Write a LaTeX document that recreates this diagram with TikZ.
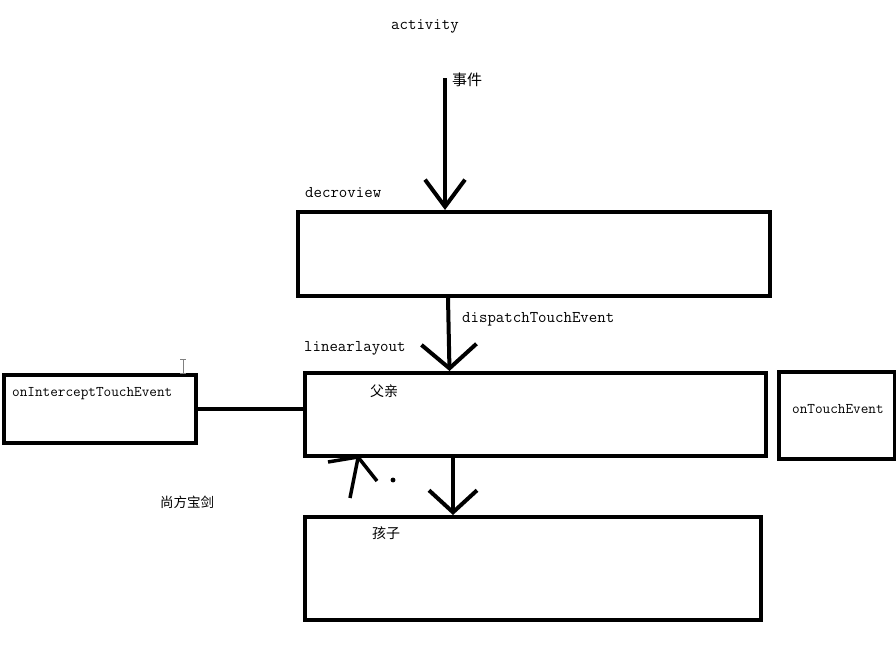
\documentclass[tikz,border=0pt]{standalone}
\usepackage{fontspec}
\newfontfamily\cjk{Noto Sans CJK SC}
\usetikzlibrary{arrows.meta}
\begin{document}
\begin{tikzpicture}[x=1pt,y=-1pt,
    viewbox/.style={draw,line width=4pt,inner sep=0pt},
    lbl/.style={anchor=west,inner sep=0pt,yshift=-1.5pt,font=\ttfamily\fontsize{16.4}{18}\selectfont},
    smalllbl/.style={anchor=west,inner sep=0pt,yshift=-1.5pt,font=\ttfamily\fontsize{14.8}{16}\selectfont},
    zh/.style={anchor=west,inner sep=0pt,font=\cjk\fontsize{14}{16}\selectfont},
    pass/.style={line width=4pt}]
            \useasboundingbox (0,0) rectangle (896,648);

            \node[viewbox,minimum width=472pt,minimum height=84pt] (deco) at (534,254) {};
            \node[viewbox,minimum width=461pt,minimum height=83pt] (parent) at (535.5,414.5) {};
            \node[viewbox,minimum width=456pt,minimum height=103pt] (child) at (533,568.5) {};
            \node[viewbox,minimum width=192pt,minimum height=68pt] (intercept) at (100,409) {};
            \node[viewbox,minimum width=116pt,minimum height=87pt] (touch) at (837,415.5) {};

            \node[lbl] (activity) at (391,25) {activity};
            \node[lbl] (decolbl) at (305,191) {decroview};
            \node[lbl] (dispatch) at (462,318) {dispatchTouchEvent};
            \node[lbl] (linlbl) at (304,347) {linearlayout};
            \node[smalllbl] (interceptlbl) at (12,392) {onInterceptTouchEvent};
            \node[smalllbl] (touchlbl) at (792,408) {onTouchEvent};
            \node[zh,font=\cjk\fontsize{15}{17}\selectfont] (event) at (452,80) {事件};
            \node[zh] (parentlbl) at (370,391) {父亲};
            \node[zh] (childlbl) at (372,533) {孩子};
            \node[zh,font=\cjk\fontsize{13.5}{15}\selectfont] (sword) at (160,502) {尚方宝剑};

            \coordinate (evstart) at (445,78);
            \draw[pass,-{Straight Barb[length=27pt,width=40pt]}] (evstart) -- (evstart |- deco.north);
            \draw[pass,-{Straight Barb[length=24pt,width=55pt]}] ([xshift=-86pt]deco.south) -- ([xshift=-86pt]parent.north);
            \draw[pass,-{Straight Barb[length=22pt,width=48pt]}] ([xshift=-82.5pt]parent.south) -- ([xshift=-80pt]child.north);
            \draw[pass] (intercept.east) -- (intercept.east -| parent.west);

            \draw[line width=3.5pt] (350,498) -- (358,458);
            \draw[line width=3.5pt] (328,462) -- (358,457) -- (377,481);
            \filldraw (393,480) circle (2.2pt);

            \draw[gray,line width=1pt] (183,359) -- (183,373) (180,359) -- (186,359) (180,373) -- (186,373);
        \end{tikzpicture}
\end{document}
